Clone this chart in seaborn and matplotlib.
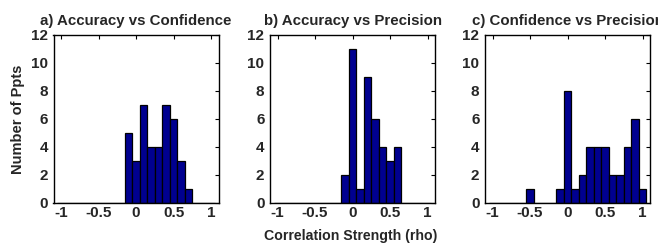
import numpy as np
import pandas as pd
import matplotlib
matplotlib.use('Agg')
import matplotlib.pyplot as plt
import seaborn as sns

# bin centres (rho) and number of participants in each bin
centres_a = [-0.1, 0.0, 0.1, 0.2, 0.3, 0.4, 0.5, 0.6, 0.7]
counts_a = [5, 3, 7, 4, 4, 7, 6, 3, 1]

centres_b = [-0.1, 0.0, 0.1, 0.2, 0.3, 0.4, 0.5, 0.6]
counts_b = [2, 11, 1, 9, 6, 4, 3, 4]

centres_c = [-0.5, -0.1, 0.0, 0.1, 0.2, 0.3, 0.4, 0.5, 0.6, 0.7, 0.8, 0.9, 1.0]
counts_c = [1, 1, 8, 1, 2, 4, 4, 4, 2, 2, 4, 6, 1]

titles = ['a) Accuracy vs Confidence', 'b) Accuracy vs Precision', 'c) Confidence vs Precision']
xticks = [-1, -0.5, 0, 0.5, 1]
xticklabels = ['-1', '-0.5', '0', '0.5', '1']
yticks = [0, 2, 4, 6, 8, 10, 12]

sns.set_style('white')
plt.rcParams['font.family'] = ['Liberation Sans', 'DejaVu Sans']
plt.rcParams['font.weight'] = 'bold'

fig = plt.figure(figsize=(6.58, 2.44), dpi=100)
W, H = 658, 244
lefts = [53.5, 270, 485]
axes = [fig.add_axes([l / W, 1 - 203 / H, 165 / W, 168 / H]) for l in lefts]

data = [(centres_a, counts_a), (centres_b, counts_b), (centres_c, counts_c)]

for ax, (c, n), t in zip(axes, data, titles):
    df = pd.DataFrame({'rho': c, 'n': n})
    sns.histplot(data=df, x='rho', weights='n', binwidth=0.1, binrange=(-1.05, 1.05),
                 ax=ax, color='#000090', edgecolor='black', linewidth=0.9, alpha=1)
    ax.set_xlim(-1.1, 1.1)
    ax.set_ylim(0, 12)
    ax.set_xticks(xticks)
    ax.set_xticklabels(xticklabels)
    ax.set_yticks(yticks)
    ax.tick_params(direction='in', length=3, width=0.8, top=True, right=True,
                   labelsize=11, pad=2, color='black')
    ax.tick_params(axis='y', pad=4)
    for lab in ax.get_xticklabels() + ax.get_yticklabels():
        lab.set_fontweight('bold')
    for sp in ax.spines.values():
        sp.set_visible(True)
        sp.set_color('black')
        sp.set_linewidth(1.0)
    ax.set_ylabel('')
    ax.set_xlabel('')
    ax.set_title(t, fontsize=10.8, fontweight='bold', pad=7)

axes[0].set_ylabel('Number of Ppts', fontsize=10.5, fontweight='bold')
axes[0].yaxis.set_label_coords(-(53.5 - 25) / 165, 0.5)
fig.text(351 / W, 1 - 236 / H, 'Correlation Strength (rho)', ha='center', va='center',
         fontsize=10.2, fontweight='bold')

fig.savefig('out.png', dpi=100)
